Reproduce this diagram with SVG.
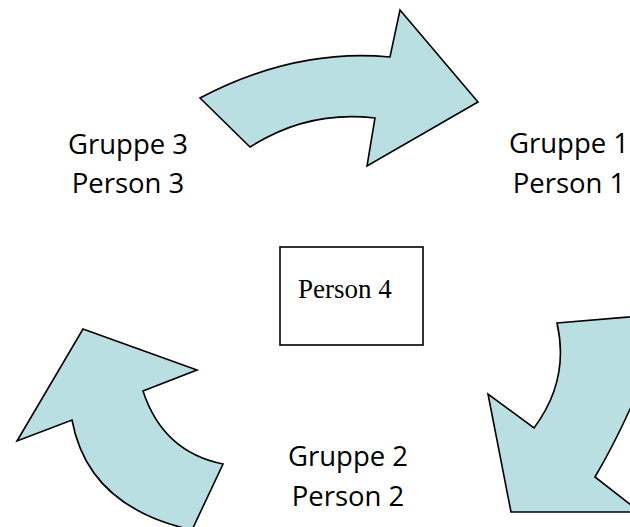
<svg xmlns="http://www.w3.org/2000/svg" width="630" height="527" viewBox="0 0 630 527">
  <style>
    .arrow { fill: #badfe3; stroke: #000; stroke-width: 1.6; stroke-linejoin: miter; }
    .lbl { font-family: "Open Sans", "Noto Sans", sans-serif; font-size: 27.5px; fill: #000; text-anchor: middle; }
    .box { fill: #fff; stroke: #000; stroke-width: 1.6; }
    .boxlbl { font-family: "Liberation Serif", "Times New Roman", serif; font-size: 27px; fill: #000; }
  </style>
  <rect width="630" height="527" fill="#fff"/>
  <g id="connectors">
    <path id="arrow-top" class="arrow" d="M200,98 L250,147 Q308,110 375,118 L367,166 L478,102 L400,10 L390,57 Q295,48 200,98 Z"/>
    <path id="arrow-right" class="arrow" d="M557,323 L665,314 Q640,400 595,477 L640,512 L511,512 L488,394 L534,428 Q570,380 557,323 Z"/>
    <path id="arrow-left" class="arrow" d="M83,329 L197,370 L143,391 Q163,452 223,464 L192,530 Q88,507 72,420 L17,441 Z"/>
  </g>
  <g id="group1">
    <text class="lbl" x="569" y="153">Gruppe 1</text>
    <text class="lbl" x="569" y="193">Person 1</text>
  </g>
  <g id="group2">
    <text class="lbl" x="348" y="466">Gruppe 2</text>
    <text class="lbl" x="348" y="506">Person 2</text>
  </g>
  <g id="group3">
    <text class="lbl" x="128" y="154">Gruppe 3</text>
    <text class="lbl" x="128" y="193">Person 3</text>
  </g>
  <g id="person4">
    <rect class="box" x="280" y="247" width="143" height="98"/>
    <text class="boxlbl" x="298" y="298">Person 4</text>
  </g>
</svg>
